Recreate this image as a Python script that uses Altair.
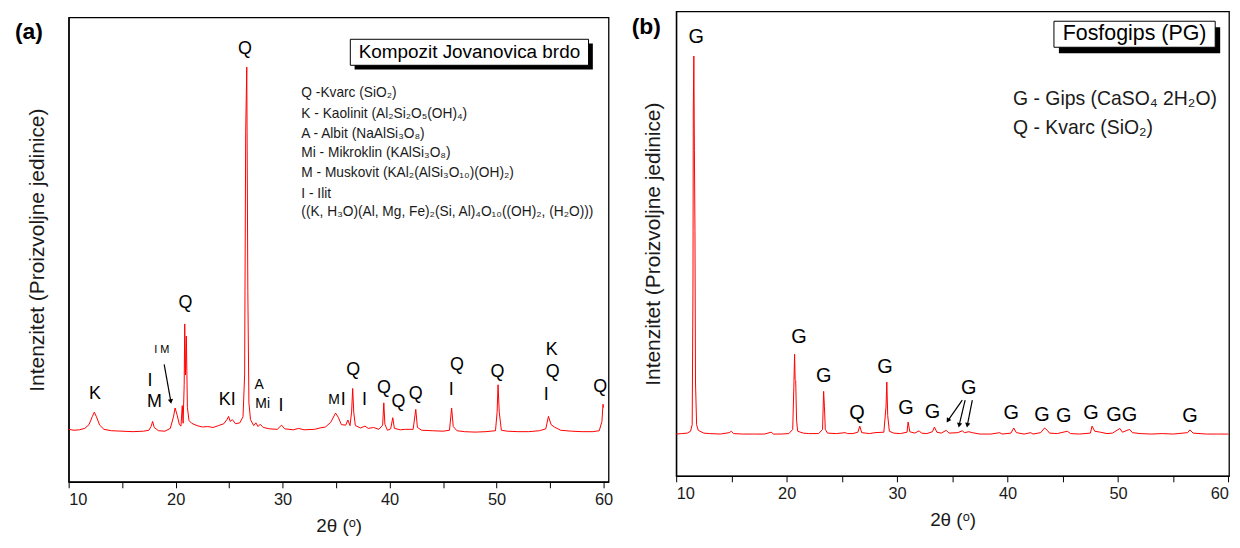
import altair as alt
import pandas as pd

FONT = "Liberation Sans"

# ---------------- Panel (a): Kompozit Jovanovica brdo ----------------
tt_a = [10.0, 10.5, 11.0, 11.5, 11.9, 12.2, 12.4, 12.6, 12.9, 13.3, 14.0, 15.0, 16.0, 17.0, 17.5,
        17.7, 17.85, 18.0, 18.4, 19.0, 19.5, 19.8, 19.95, 20.15, 20.35, 20.5, 20.62, 20.7, 20.8,
        20.85, 20.92, 21.0, 21.1, 21.25, 21.5, 22.0, 22.5, 23.0, 23.5, 24.0, 24.5, 24.8, 24.95,
        25.1, 25.3, 25.6, 26.0, 26.3, 26.45, 26.55, 26.65, 26.75, 26.85, 27.0, 27.3, 27.5, 27.7,
        27.9, 28.2, 28.8, 29.5, 29.9, 30.2, 31.0, 31.5, 32.0, 33.0, 33.5, 34.0, 34.5, 34.95, 35.2,
        35.5, 35.9, 36.1, 36.3, 36.45, 36.55, 36.65, 36.8, 37.3, 37.7, 38.0, 38.5, 39.0, 39.35,
        39.46, 39.56, 39.8, 40.1, 40.3, 40.45, 41.0, 41.5, 42.2, 42.45, 42.6, 43.0, 44.0, 45.0,
        45.6, 45.8, 45.95, 46.3, 47.0, 48.0, 49.0, 49.9, 50.05, 50.14, 50.25, 50.45, 51.0, 52.0,
        53.0, 54.0, 54.6, 54.85, 55.1, 55.4, 56.0, 57.0, 58.0, 59.0, 59.6, 59.85, 59.95, 60.0]
int_a = [11.3, 11.1, 11.2, 11.5, 12.3, 14.0, 15.0, 14.0, 12.2, 11.3, 11.0, 10.9, 10.8, 10.9, 11.1,
         11.9, 13.0, 11.7, 11.0, 10.9, 11.5, 14.0, 15.9, 14.3, 12.3, 12.0, 16.4, 12.6, 21.0,
         34.0, 23.0, 31.4, 16.0, 13.2, 12.6, 12.1, 11.8, 11.9, 11.7, 12.1, 12.5, 13.4, 14.1,
         13.0, 13.4, 12.5, 12.7, 14.0, 23.0, 75.5, 89.3, 41.0, 17.0, 13.4, 12.1, 12.7, 11.9,
         12.4, 11.7, 11.4, 11.3, 12.2, 11.4, 11.2, 11.5, 11.2, 11.3, 11.6, 11.8, 12.8, 14.8, 13.9,
         12.3, 12.2, 13.3, 12.1, 15.0, 20.1, 15.0, 12.1, 11.6, 12.0, 11.5, 11.7, 11.3, 12.2,
         17.0, 12.4, 11.1, 11.4, 13.8, 11.5, 11.2, 11.3, 11.3, 15.6, 11.7, 11.1, 11.0, 10.9,
         11.1, 15.9, 11.9, 11.0, 10.8, 10.7, 10.8, 11.0, 15.0, 20.9, 15.0, 11.1, 10.9, 10.8,
         10.8, 11.0, 11.4, 14.1, 12.3, 11.8, 11.1, 10.9, 10.8, 10.8, 11.0, 13.0, 16.7, 16.0]

legend_a = ["Q -Kvarc (SiO₂)",
            "K - Kaolinit (Al₂Si₂O₅(OH)₄)",
            "A - Albit (NaAlSi₃O₈)",
            "Mi - Mikroklin (KAlSi₃O₈)",
            "M - Muskovit (KAl₂(AlSi₃O₁₀)(OH)₂)",
            "I - Ilit",
            "((K, H₃O)(Al, Mg, Fe)₂(Si, Al)₄O₁₀((OH)₂, (H₂O)))"]
legend_a_y = [83.7, 79.3, 75.0, 70.7, 66.4, 62.0, 58.2]
legend_a_x = 31.75

peak_a_big_t = ["K", "I", "M", "Q", "Q", "KI", "I", "I", "Q", "I", "Q", "Q", "Q",
                "Q", "I", "Q", "K", "Q", "I", "Q"]
peak_a_big_x = [12.47, 17.60, 18.03, 20.91, 26.48, 24.83, 29.86, 35.66, 36.59, 37.65,
                39.47, 40.83, 42.45, 46.30, 45.77, 50.08, 55.15, 55.25, 54.65, 59.69]
peak_a_big_y = [18.8, 21.6, 17.2, 38.4, 93.1, 17.7, 16.3, 17.6, 24.0, 17.6,
                20.1, 17.2, 18.8, 25.1, 19.7, 23.6, 28.3, 23.6, 18.6, 20.4]
peak_a_mid_t = ["A", "Mi", "M"]
peak_a_mid_x = [27.81, 28.14, 34.8]
peak_a_mid_y = [20.8, 16.85, 17.6]
peak_a_small_t = ["I M"]
peak_a_small_x = [18.7]
peak_a_small_y = [28.4]
arrow_a = {"x": [18.93], "y": [25.3], "x2": [19.55], "y2": [17.3], "ang": [350.5]}

# ---------------- Panel (b): Fosfogips (PG) ----------------
tt_b = [10.0, 10.5, 11.0, 11.3, 11.45, 11.52, 11.55, 11.6, 11.65, 11.7, 11.75, 11.85, 12.0, 12.5,
        13.0, 14.0, 14.8, 15.0, 15.2, 16.0, 17.0, 18.0, 18.6, 18.8, 19.5, 20.2, 20.55, 20.65,
        20.72, 20.77, 20.82, 20.9, 21.0, 21.5, 22.0, 22.9, 23.25, 23.35, 23.42, 23.5, 23.7, 24.5,
        25.3, 25.5, 26.0, 26.45, 26.62, 26.8, 27.5, 28.0, 28.8, 29.0, 29.07, 29.15, 29.3, 29.7,
        30.3, 30.9, 31.0, 31.15, 31.6, 32.0, 32.2, 32.7, 33.2, 33.38, 33.6, 34.0, 34.45, 34.7,
        35.5, 35.9, 36.1, 36.5, 36.8, 37.5, 38.5, 39.3, 39.5, 40.3, 40.56, 40.8, 41.5, 42.1, 42.3,
        43.0, 43.35, 43.6, 43.8, 44.5, 45.41, 45.7, 46.5, 47.5, 47.65, 47.9, 48.4, 49.0, 49.5,
        50.17, 50.4, 51.06, 51.3, 52.0, 53.0, 54.0, 55.0, 56.3, 56.51, 56.8, 58.0, 59.0, 60.0]
int_b = [9.0, 9.1, 9.2, 9.6, 11.0, 40.0, 79.0, 90.4, 70.0, 52.8, 20.0, 11.0, 9.8, 9.2,
         9.1, 9.0, 9.3, 9.6, 9.1, 9.0, 9.0, 9.0, 9.4, 9.0, 9.0, 9.1, 10.0, 19.0,
         26.2, 20.7, 20.5, 12.0, 9.6, 9.2, 9.1, 9.1, 10.0, 18.2, 15.0, 10.0, 9.2, 9.1,
         9.3, 9.1, 9.1, 9.4, 10.7, 9.3, 9.1, 9.3, 9.4, 15.0, 20.2, 13.0, 9.6, 9.2,
         9.1, 9.4, 11.6, 9.5, 9.2, 9.7, 9.2, 9.1, 9.5, 10.5, 9.4, 9.2, 9.8, 9.2,
         9.3, 9.7, 9.3, 9.5, 9.3, 9.0, 9.0, 9.3, 9.0, 9.2, 10.3, 9.3, 9.0, 9.3, 9.0,
         9.3, 10.3, 9.8, 9.2, 9.1, 9.6, 9.1, 9.0, 9.2, 10.7, 9.6, 9.4, 9.1, 9.2,
         10.2, 9.4, 10.0, 9.3, 9.1, 9.0, 9.1, 9.0, 9.3, 9.9, 9.2, 9.0, 9.0, 9.0]

legend_b = ["G - Gips (CaSO₄ 2H₂O)", "Q - Kvarc (SiO₂)"]
legend_b_y = [81.2, 74.9]
legend_b_x = 40.5

peak_b_t = ["G", "G", "G", "Q", "G", "G", "G", "G", "G", "G", "G", "G", "GG", "G"]
peak_b_x = [11.82, 21.12, 23.35, 26.37, 28.9, 30.81, 33.2, 36.49, 40.33, 43.12, 45.09, 47.55,
            50.34, 56.51]
peak_b_y = [94.6, 29.9, 21.6, 13.6, 23.5, 14.7, 13.8, 19.0, 13.6, 13.1, 12.8, 13.6, 13.1, 12.8]
arrow_b = {"x": [35.9, 36.16, 36.81], "y": [16.3, 16.3, 16.3],
           "x2": [34.6, 35.62, 36.36], "y2": [11.9, 10.9, 10.9], "ang": [31.6, 11.5, 10.4]}


def panel(tt, inten, xmax, width, height, legend, leg_x, leg_y, leg_size,
          box, box_title, box_font, label_groups, arrows, letter, letter_dx, letter_dy,
          ytitle_pad):
    xs = alt.Scale(domain=[10, xmax], nice=False, zero=False)
    ys = alt.Scale(domain=[0, 100], nice=False, zero=False)
    X = alt.X("x:Q", scale=xs, axis=alt.Axis(
        values=list(range(10, 61, 5)),
        labelExpr="datum.value % 10 == 0 ? datum.label : ''",
        format="d", tickSize=6, tickColor="black", tickWidth=1,
        domainColor="black", domainWidth=1.3, grid=False,
        labelFont=FONT, labelFontSize=16.5, labelColor="#1a1a1a", labelPadding=4,
        title="2θ (ᵒ)", titleFont=FONT, titleFontSize=19, titleFontWeight="normal",
        titleColor="#1a1a1a", titlePadding=8))
    Y = alt.Y("y:Q", scale=ys, axis=alt.Axis(
        labels=False, ticks=False, grid=False, domainColor="black", domainWidth=1.3,
        title="Intenzitet (Proizvoljne jedinice)", titleFont=FONT, titleFontSize=21,
        titleFontWeight="normal", titleColor="#1a1a1a", titlePadding=ytitle_pad))

    spec = pd.DataFrame({"x": tt, "y": inten})
    line = alt.Chart(spec).mark_line(color="#ff0000", strokeWidth=1).encode(x=X, y=Y)

    bx0, bx1, by0, by1, sdx, sdy = box
    shadow = alt.Chart(pd.DataFrame({"x": [bx0 + sdx], "x2": [bx1 + sdx],
                                     "y": [by0 - sdy], "y2": [by1 - sdy]})).mark_rect(
        color="black").encode(x=X, x2="x2:Q", y=Y, y2="y2:Q")
    frame = alt.Chart(pd.DataFrame({"x": [bx0], "x2": [bx1], "y": [by0], "y2": [by1]})).mark_rect(
        fill="white", stroke="black", strokeWidth=1).encode(x=X, x2="x2:Q", y=Y, y2="y2:Q")
    btxt = alt.Chart(pd.DataFrame({"x": [(bx0 + bx1) / 2], "y": [(by0 + by1) / 2],
                                   "t": [box_title]})).mark_text(
        font=FONT, fontSize=box_font, color="black", baseline="middle", align="center").encode(
        x=X, y=Y, text="t:N")

    leg = alt.Chart(pd.DataFrame({"x": [leg_x] * len(legend), "y": leg_y, "t": legend})).mark_text(
        font=FONT, fontSize=leg_size, color="#1a1a1a", align="left", baseline="middle").encode(
        x=X, y=Y, text="t:N")

    layers = [line, shadow, frame, btxt, leg]
    for (ts, xs_, ys_, fs) in label_groups:
        layers.append(alt.Chart(pd.DataFrame({"x": xs_, "y": ys_, "t": ts})).mark_text(
            font=FONT, fontSize=fs, color="black", align="center", baseline="middle").encode(
            x=X, y=Y, text="t:N"))

    adf = pd.DataFrame(arrows)
    layers.append(alt.Chart(adf).mark_rule(color="black", strokeWidth=1.2).encode(
        x=X, y=Y, x2="x2:Q", y2="y2:Q"))
    head = pd.DataFrame({"x": arrows["x2"], "y": arrows["y2"], "ang": arrows["ang"]})
    layers.append(alt.Chart(head).mark_point(shape="triangle-down", filled=True, color="black",
                                             size=28, opacity=1).encode(
        x=X, y=Y, angle=alt.Angle("ang:Q", scale=None)))

    one = pd.DataFrame({"k": [0]})
    layers.append(alt.Chart(one).mark_text(font=FONT, fontSize=23, fontWeight="bold",
                                           color="black", align="center", baseline="middle").encode(
        x=alt.value(letter_dx), y=alt.value(letter_dy), text=alt.value(letter)))

    return alt.layer(*layers).properties(width=width, height=height)


pa = panel(tt_a, int_a, 60.47, 543, 467, legend_a, legend_a_x, legend_a_y, 13.8,
           (36.33, 58.6, 95.3, 89.7, 0.4, 0.9), "Kompozit Jovanovica brdo", 19,
           [(peak_a_big_t, peak_a_big_x, peak_a_big_y, 18),
            (peak_a_mid_t, peak_a_mid_x, peak_a_mid_y, 14),
            (peak_a_small_t, peak_a_small_x, peak_a_small_y, 11)],
           arrow_a, "(a)", -40, 15, 21.5)

pb = panel(tt_b, int_b, 60.05, 556, 467, legend_b, legend_b_x, legend_b_y, 19.5,
           (44.2, 58.8, 97.9, 92.3, 0.45, 1.3), "Fosfogips (PG)", 21.5,
           [(peak_b_t, peak_b_x, peak_b_y, 20)],
           arrow_b, "(b)", -30, 16, 13)

# small invisible spacer that lowers panel (a) by a few pixels relative to panel (b)
spacer = alt.Chart(pd.DataFrame({"k": [0]})).mark_point(opacity=0, size=1).encode(
    x=alt.value(0), y=alt.value(0.5)).properties(
    width=1, height=1, view=alt.ViewBackground(stroke="transparent"))
col_a = alt.vconcat(spacer, pa, spacing=3)

chart = alt.hconcat(col_a, pb, spacing=17).properties(
    padding={"left": 6, "top": 1, "right": 0, "bottom": 0}
).configure(background="white").configure_view(stroke="black", strokeWidth=1.3)

chart.save("out.html", embed_options={"renderer": "svg", "actions": False})
